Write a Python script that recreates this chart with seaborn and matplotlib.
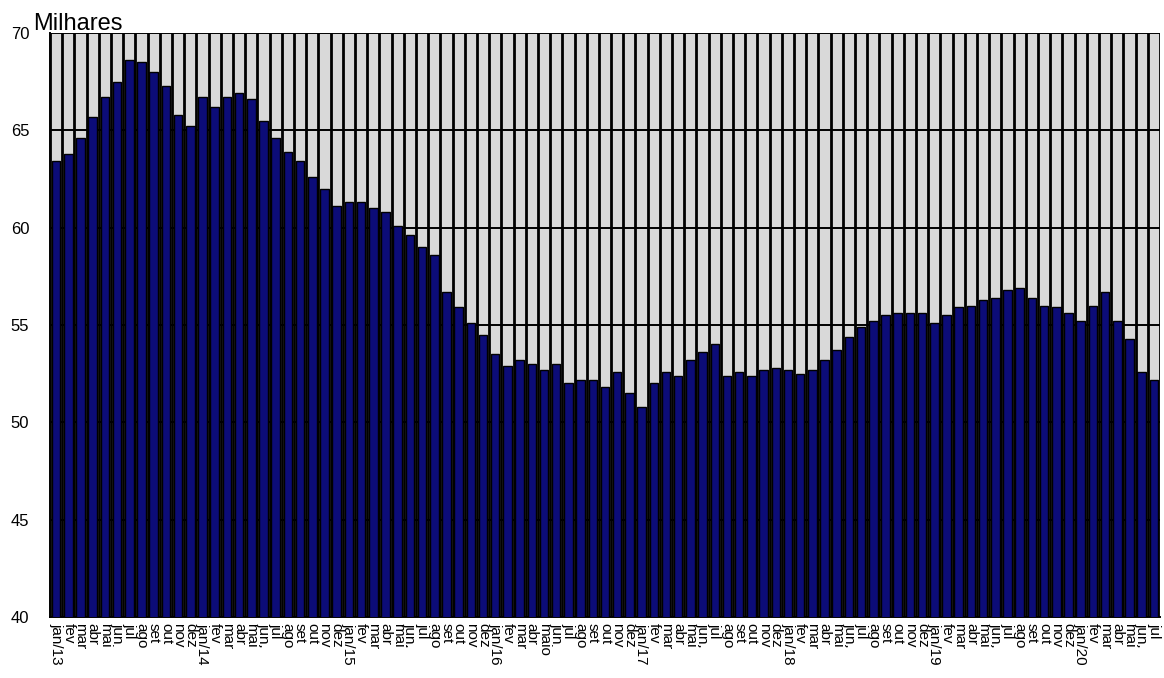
import numpy as np
import pandas as pd
import matplotlib
matplotlib.use("Agg")
import matplotlib.pyplot as plt
import seaborn as sns

# Rótulos dos meses (como aparecem no eixo)
rotulos_2013 = ["jan/13", "fev", "mar", "abr", "mai", "jun", "jul", "ago", "set", "out", "nov", "dez"]
rotulos_2014 = ["jan/14", "fev", "mar", "abr", "mai", "jun.", "jul", "ago", "set", "out", "nov", "dez"]
rotulos_2015 = ["jan/15", "fev", "mar", "abr", "mai", "jun.", "jul", "ago", "set", "out", "nov", "dez"]
rotulos_2016 = ["jan/16", "fev", "mar", "abr", "maio", "jun", "jul", "ago", "set", "out", "nov", "dez"]
rotulos_2017 = ["jan/17", "fev", "mar", "abr", "mai", "jun.", "jul", "ago", "set", "out", "nov", "dez"]
rotulos_2018 = ["jan/18", "fev", "mar", "abr", "mai", "jun.", "jul", "ago", "set", "out", "nov", "dez"]
rotulos_2019 = ["jan/19", "fev", "mar", "abr", "mai", "jun.", "jul", "ago", "set", "out", "nov", "dez"]
rotulos_2020 = ["jan/20", "fev", "mar", "abr", "mai", "jun.", "jul"]

# Valores (milhares)
valores_2013 = [63.4, 63.8, 64.6, 65.7, 66.7, 67.5, 68.6, 68.5, 68.0, 67.3, 65.8, 65.2]
valores_2014 = [66.7, 66.2, 66.7, 66.9, 66.6, 65.5, 64.6, 63.9, 63.4, 62.6, 62.0, 61.1]
valores_2015 = [61.3, 61.3, 61.0, 60.8, 60.1, 59.6, 59.0, 58.6, 56.7, 55.9, 55.1, 54.5]
valores_2016 = [53.5, 52.9, 53.2, 53.0, 52.7, 53.0, 52.0, 52.2, 52.2, 51.8, 52.6, 51.5]
valores_2017 = [50.8, 52.0, 52.6, 52.4, 53.2, 53.6, 54.0, 52.4, 52.6, 52.4, 52.7, 52.8]
valores_2018 = [52.7, 52.5, 52.7, 53.2, 53.7, 54.4, 54.9, 55.2, 55.5, 55.6, 55.6, 55.6]
valores_2019 = [55.1, 55.5, 55.9, 56.0, 56.3, 56.4, 56.8, 56.9, 56.4, 56.0, 55.9, 55.6]
valores_2020 = [55.2, 56.0, 56.7, 55.2, 54.3, 52.6, 52.2]

rotulos = (rotulos_2013 + rotulos_2014 + rotulos_2015 + rotulos_2016 +
           rotulos_2017 + rotulos_2018 + rotulos_2019 + rotulos_2020)
valores = (valores_2013 + valores_2014 + valores_2015 + valores_2016 +
           valores_2017 + valores_2018 + valores_2019 + valores_2020)

n = len(valores)
df = pd.DataFrame({"periodo": [f"p{i:03d}" for i in range(n)], "valor": valores})

sns.set_style("white")
plt.rcParams['font.family'] = ['Liberation Sans', 'DejaVu Sans']
plt.rcParams['text.color'] = 'black'
plt.rcParams['xtick.color'] = 'black'
plt.rcParams['ytick.color'] = 'black'

W, H = 1164, 678
fig = plt.figure(figsize=(W / 100, H / 100), dpi=100)
ax = fig.add_axes([50 / W, 1 - 617 / H, 1110 / W, 584 / H])
ax.set_facecolor("#d9d9d9")

sns.barplot(data=df, x="periodo", y="valor", color="#0c0c78", saturation=1,
            edgecolor="black", linewidth=1.0, width=0.7, ax=ax, zorder=3)

ax.set_ylim(40, 70)
ax.set_xlim(-0.5, n - 0.5)
ax.set_yticks(np.arange(40, 71, 5))
ax.set_xticks(np.arange(n))
ax.set_xticklabels(rotulos, rotation=-90, fontsize=11, va="top", ha="center")
ax.set_xticks(np.arange(n + 1) - 0.5, minor=True)

ax.set_axisbelow(True)
ax.grid(which="minor", axis="x", color="black", linewidth=2.0)
ax.grid(which="major", axis="y", color="black", linewidth=1.4)
ax.grid(which="major", axis="x", visible=False)

ax.tick_params(axis="x", which="major", length=0, pad=4)
ax.tick_params(axis="x", which="minor", length=5, width=1, color="black", direction="out")
ax.tick_params(axis="y", length=6, width=1, color="black", direction="out", labelsize=12, pad=9)

for lado in ["top", "right"]:
    ax.spines[lado].set_visible(False)
for lado in ["left", "bottom"]:
    ax.spines[lado].set_color("black")
    ax.spines[lado].set_linewidth(1.4)

ax.set_xlabel("")
ax.set_ylabel("")

fig.text(33 / W, 1 - 30 / H, "Milhares", fontsize=17, ha="left", va="baseline")

fig.savefig("out.png", dpi=100)
